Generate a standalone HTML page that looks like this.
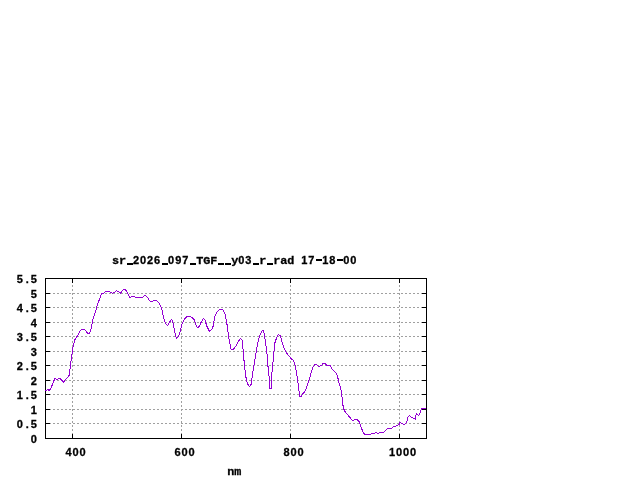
<!DOCTYPE html>
<html><head><meta charset="utf-8"><title>plot</title>
<style>
html,body{margin:0;padding:0;background:#fff;}
body{width:640px;height:480px;position:relative;overflow:hidden;}
svg{position:absolute;left:0;top:0;}
.g{stroke:#a0a0a0;stroke-width:1;stroke-dasharray:2 2;shape-rendering:crispEdges;}
.b{stroke:#000;stroke-width:1;shape-rendering:crispEdges;}
.c{stroke:#9400d3;stroke-width:1;fill:none;stroke-linejoin:round;shape-rendering:crispEdges;}
.t{position:absolute;font-family:"Liberation Mono",monospace;font-weight:bold;font-size:11.8px;letter-spacing:-0.08px;-webkit-text-stroke:0.3px #000;line-height:14px;height:14px;color:#000;white-space:pre;will-change:transform;}
.u.h{background-position:1px 6px;}
.n{font-family:"Liberation Sans",sans-serif;font-size:11px;letter-spacing:0.9px;}
.d{display:inline-block;width:7px;text-align:center;letter-spacing:0;}
.yl{left:0;width:37.7px;text-align:right;}
.xl{width:80px;text-align:center;top:445px;}
.ti{left:0;width:469.4px;text-align:center;top:253px;}
.u{display:inline-block;width:7px;height:14px;vertical-align:top;letter-spacing:0;color:transparent;-webkit-text-stroke:0;background:linear-gradient(#000,#000) no-repeat 1px 10px / 6px 2px;}
.xt{left:0;width:468.4px;text-align:center;top:465px;}
</style></head><body>
<svg width="640" height="480" viewBox="0 0 640 480">
<line class="g" x1="72.5" y1="439" x2="72.5" y2="278"/>
<line class="g" x1="181.5" y1="439" x2="181.5" y2="278"/>
<line class="g" x1="290.5" y1="439" x2="290.5" y2="278"/>
<line class="g" x1="399.5" y1="439" x2="399.5" y2="278"/>
<line class="g" x1="45" y1="423.5" x2="427" y2="423.5"/>
<line class="g" x1="45" y1="409.5" x2="427" y2="409.5"/>
<line class="g" x1="45" y1="394.5" x2="427" y2="394.5"/>
<line class="g" x1="45" y1="380.5" x2="427" y2="380.5"/>
<line class="g" x1="45" y1="365.5" x2="427" y2="365.5"/>
<line class="g" x1="45" y1="351.5" x2="427" y2="351.5"/>
<line class="g" x1="45" y1="336.5" x2="427" y2="336.5"/>
<line class="g" x1="45" y1="322.5" x2="427" y2="322.5"/>
<line class="g" x1="45" y1="307.5" x2="427" y2="307.5"/>
<line class="g" x1="45" y1="293.5" x2="427" y2="293.5"/>
<line class="b" x1="72.5" y1="278" x2="72.5" y2="283"/>
<line class="b" x1="72.5" y1="439" x2="72.5" y2="434"/>
<line class="b" x1="181.5" y1="278" x2="181.5" y2="283"/>
<line class="b" x1="181.5" y1="439" x2="181.5" y2="434"/>
<line class="b" x1="290.5" y1="278" x2="290.5" y2="283"/>
<line class="b" x1="290.5" y1="439" x2="290.5" y2="434"/>
<line class="b" x1="399.5" y1="278" x2="399.5" y2="283"/>
<line class="b" x1="399.5" y1="439" x2="399.5" y2="434"/>
<line class="b" x1="45" y1="438.5" x2="50" y2="438.5"/>
<line class="b" x1="427" y1="438.5" x2="422" y2="438.5"/>
<line class="b" x1="45" y1="423.5" x2="50" y2="423.5"/>
<line class="b" x1="427" y1="423.5" x2="422" y2="423.5"/>
<line class="b" x1="45" y1="409.5" x2="50" y2="409.5"/>
<line class="b" x1="427" y1="409.5" x2="422" y2="409.5"/>
<line class="b" x1="45" y1="394.5" x2="50" y2="394.5"/>
<line class="b" x1="427" y1="394.5" x2="422" y2="394.5"/>
<line class="b" x1="45" y1="380.5" x2="50" y2="380.5"/>
<line class="b" x1="427" y1="380.5" x2="422" y2="380.5"/>
<line class="b" x1="45" y1="365.5" x2="50" y2="365.5"/>
<line class="b" x1="427" y1="365.5" x2="422" y2="365.5"/>
<line class="b" x1="45" y1="351.5" x2="50" y2="351.5"/>
<line class="b" x1="427" y1="351.5" x2="422" y2="351.5"/>
<line class="b" x1="45" y1="336.5" x2="50" y2="336.5"/>
<line class="b" x1="427" y1="336.5" x2="422" y2="336.5"/>
<line class="b" x1="45" y1="322.5" x2="50" y2="322.5"/>
<line class="b" x1="427" y1="322.5" x2="422" y2="322.5"/>
<line class="b" x1="45" y1="307.5" x2="50" y2="307.5"/>
<line class="b" x1="427" y1="307.5" x2="422" y2="307.5"/>
<line class="b" x1="45" y1="293.5" x2="50" y2="293.5"/>
<line class="b" x1="427" y1="293.5" x2="422" y2="293.5"/>
<line class="b" x1="45" y1="278.5" x2="50" y2="278.5"/>
<line class="b" x1="427" y1="278.5" x2="422" y2="278.5"/>
<rect class="b" x="45.5" y="278.5" width="381" height="160" fill="none"/>
<polyline class="c" points="45.50,390.80 46.25,390.60 47.50,389.40 49.40,390.60 51.25,387.50 53.10,382.50 55.00,378.50 57.50,379.40 59.40,378.50 61.25,379.40 63.50,382.25 66.25,378.75 69.40,375.25 70.60,363.75 71.90,355.00 73.10,346.25 74.75,340.00 75.60,338.25 77.50,335.75 79.40,332.00 81.25,329.50 83.10,329.25 85.60,330.50 87.50,333.25 89.40,333.25 91.00,329.50 92.50,320.75 94.40,314.50 96.25,308.90 98.10,302.60 100.00,298.25 101.50,293.90 103.75,293.00 106.25,291.40 109.40,291.40 112.50,293.50 115.00,292.00 116.50,290.50 118.75,292.00 120.40,293.25 123.10,289.75 125.60,289.75 127.50,293.25 129.75,297.40 133.10,296.40 135.60,297.40 142.50,297.40 145.00,295.10 147.50,297.60 150.00,301.10 152.50,301.40 154.40,300.50 156.90,300.75 159.40,303.25 161.90,309.50 163.75,318.25 165.60,323.25 167.50,325.50 169.40,322.60 171.25,319.25 172.75,321.40 174.40,330.10 176.25,338.50 178.10,337.00 180.00,332.00 181.90,324.50 184.40,318.90 186.90,316.40 189.40,316.40 191.90,317.60 193.75,318.90 195.60,323.90 197.50,327.60 199.40,326.40 201.25,322.00 203.50,318.25 205.00,320.10 206.90,326.40 209.40,331.40 211.90,329.50 213.10,326.25 214.75,316.25 216.90,311.90 219.40,309.50 222.50,309.50 225.00,313.75 226.90,323.75 228.75,337.50 231.25,350.00 233.10,349.40 235.60,346.50 238.10,341.90 240.40,338.50 242.25,340.25 243.10,350.00 244.40,365.00 246.00,377.50 247.50,383.75 249.40,386.50 251.25,384.40 252.50,373.75 254.40,362.50 256.25,351.25 258.10,341.25 260.00,335.00 262.50,330.40 263.75,331.25 265.00,338.75 266.90,352.50 268.10,367.50 269.40,380.00 269.50,388.10 271.25,388.10 271.50,377.50 272.75,365.00 274.00,351.25 275.00,342.50 276.90,336.90 278.50,334.40 280.60,336.25 281.90,341.25 283.75,347.50 286.25,352.50 288.75,355.60 291.25,358.75 293.10,360.00 294.75,363.10 296.25,371.25 298.10,383.75 299.75,396.20 301.50,396.20 302.75,393.75 305.00,391.25 306.25,388.75 308.10,382.50 310.00,376.90 311.50,371.25 313.10,366.90 315.00,364.60 316.25,364.40 318.75,366.50 321.25,365.60 323.50,363.10 325.00,363.50 326.90,365.40 330.40,365.60 331.90,368.75 334.40,371.50 336.25,373.50 337.50,376.25 338.75,381.90 340.25,386.90 341.25,391.25 342.25,398.75 343.10,406.25 343.75,409.00 345.60,412.75 348.10,415.25 350.60,418.40 352.75,420.50 355.00,419.40 356.90,419.60 359.40,422.10 361.25,427.75 363.10,432.10 364.75,434.40 370.00,434.40 371.90,433.40 374.40,433.10 376.00,432.40 378.10,433.40 380.00,432.75 383.75,432.10 385.60,430.25 387.50,428.40 391.90,428.10 393.40,426.40 395.30,426.40 396.60,425.50 397.80,425.20 399.10,424.25 400.00,422.10 401.25,423.30 402.50,423.50 403.40,424.60 404.70,424.60 406.25,423.00 406.90,421.10 407.50,418.60 408.40,416.40 409.50,415.20 411.25,417.40 412.80,417.70 413.75,418.50 415.00,418.50 415.50,419.60 415.60,416.75 416.60,413.30 417.20,414.60 418.40,415.50 419.40,414.25 420.30,412.40 420.60,410.50 421.60,408.60 426.25,408.60"/>
</svg>
<div class="t ti">sr<span class="u">_</span><span class="n">2026</span><span class="u">_</span><span class="n">097</span><span class="u">_</span>TGF<span class="u">_</span><span class="u">_</span>y<span class="n">03</span><span class="u">_</span>r<span class="u">_</span>rad <span class="n">17</span><span class="u h">-</span><span class="n">18</span><span class="u h">-</span><span class="n">00</span></div>
<div class="t n yl" style="top:432px">0</div>
<div class="t n yl" style="top:417px">0<span class="d">.</span>5</div>
<div class="t n yl" style="top:403px">1</div>
<div class="t n yl" style="top:388px">1<span class="d">.</span>5</div>
<div class="t n yl" style="top:374px">2</div>
<div class="t n yl" style="top:359px">2<span class="d">.</span>5</div>
<div class="t n yl" style="top:345px">3</div>
<div class="t n yl" style="top:330px">3<span class="d">.</span>5</div>
<div class="t n yl" style="top:316px">4</div>
<div class="t n yl" style="top:301px">4<span class="d">.</span>5</div>
<div class="t n yl" style="top:287px">5</div>
<div class="t n yl" style="top:272px">5<span class="d">.</span>5</div>
<div class="t n xl" style="left:35.5px">400</div>
<div class="t n xl" style="left:144.5px">600</div>
<div class="t n xl" style="left:253.5px">800</div>
<div class="t n xl" style="left:362.5px">1000</div>
<div class="t xt">nm</div>
</body></html>
